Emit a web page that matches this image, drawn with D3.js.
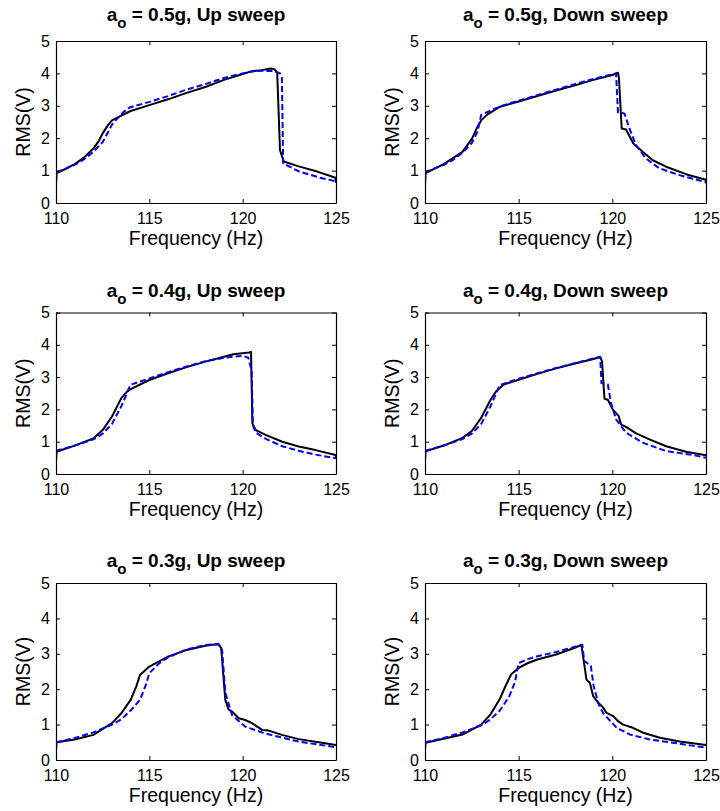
<!DOCTYPE html>
<html>
<head>
<meta charset="utf-8">
<script src="https://cdn.jsdelivr.net/npm/d3@7"></script>
<style>
  body { margin: 0; background: #fff; }
  svg { display: block; }
  text { font-family: "Liberation Sans", Arial, Helvetica, sans-serif; fill: #000; }
</style>
</head>
<body>
<svg id="chart" width="720" height="811"></svg>
<script>
// tick values
const xTicks = [110, 115, 120, 125];
const yTicks = [0, 1, 2, 3, 4, 5];

// panel titles
const accels = ["0.5g", "0.5g", "0.4g", "0.4g", "0.3g", "0.3g"];
const sweeps = ["Up sweep", "Down sweep", "Up sweep", "Down sweep", "Up sweep", "Down sweep"];

// black solid curves (measured), [Hz, RMS V]
const expA = [[110,0.55],[110.03,0.92],[110.5,1.05],[111,1.2],[111.5,1.4],[112,1.68],[112.3,1.92],[112.5,2.15],[112.8,2.42],[113,2.55],[113.5,2.7],[114,2.84],[115,3.02],[116,3.2],[117,3.4],[118,3.58],[119,3.8],[120,3.98],[120.5,4.07],[121,4.1],[121.5,4.15],[121.7,4.13],[121.85,4.02],[122.0,1.63],[122.2,1.28],[123,1.13],[124,0.97],[124.97,0.78],[125,0.62]];
const expB = [[110,0.55],[110.03,0.92],[111,1.2],[112,1.58],[112.5,1.98],[112.8,2.35],[113,2.55],[113.3,2.72],[114,2.97],[115,3.13],[116,3.3],[117,3.47],[118,3.63],[119,3.8],[120,3.95],[120.3,4.02],[120.35,3.88],[120.5,2.3],[120.73,2.27],[121.13,1.83],[121.62,1.58],[122.16,1.32],[122.87,1.12],[123.93,0.89],[124.98,0.72],[125,0.6]];
const expC = [[110,0.4],[110.03,0.69],[111,0.88],[112,1.1],[112.5,1.36],[113,1.78],[113.5,2.35],[113.8,2.55],[114,2.63],[115,2.91],[116,3.12],[117,3.31],[118,3.48],[119,3.63],[119.5,3.71],[120.35,3.76],[120.45,3.78],[120.52,1.57],[120.7,1.36],[121.23,1.21],[122.12,1.0],[123,0.85],[123.9,0.74],[124.98,0.59],[125,0.5]];
const expD = [[110,0.4],[110.03,0.7],[111,0.88],[112,1.12],[112.5,1.33],[113,1.74],[113.5,2.3],[113.8,2.56],[114.2,2.77],[115,2.92],[116,3.1],[117,3.27],[118,3.42],[119,3.56],[119.35,3.62],[119.45,3.49],[119.58,2.33],[119.76,2.3],[120.02,2.0],[120.34,1.79],[120.47,1.53],[120.73,1.46],[121.27,1.26],[121.98,1.07],[122.87,0.86],[123.93,0.69],[125,0.58]];
const expE = [[110,0.3],[110.03,0.5],[111,0.58],[112,0.71],[113,1.04],[113.5,1.32],[114,1.7],[114.3,2.08],[114.5,2.4],[115,2.64],[116,2.92],[117,3.11],[118,3.23],[118.7,3.28],[118.85,3.16],[119.07,1.7],[119.25,1.42],[119.43,1.37],[119.79,1.18],[120.14,1.13],[120.5,1.04],[121.04,0.85],[121.4,0.83],[122.1,0.71],[123,0.59],[124.07,0.5],[125,0.42]];
const expF = [[110,0.3],[110.03,0.49],[111,0.6],[112,0.72],[113,1.0],[113.5,1.29],[114,1.73],[114.3,2.09],[114.6,2.42],[115,2.6],[115.5,2.74],[116,2.84],[117,2.98],[118,3.17],[118.35,3.25],[118.62,2.27],[118.8,2.18],[118.98,1.8],[119.25,1.62],[119.51,1.48],[119.69,1.33],[120.05,1.24],[120.3,1.1],[120.58,1.0],[121.1,0.91],[121.65,0.77],[122.54,0.63],[123.6,0.52],[125,0.42]];

// blue dashed curves (model)
const simA = [[110,0.95],[110.5,1.05],[111,1.18],[111.5,1.35],[112,1.58],[112.5,1.88],[112.8,2.2],[113,2.42],[113.3,2.62],[113.6,2.8],[113.95,2.95],[115,3.12],[116,3.3],[117,3.5],[118,3.67],[119,3.86],[120,4.0],[120.5,4.06],[121,4.08],[121.7,4.07],[122.0,4.0],[122.1,3.9],[122.17,1.22],[123,0.98],[124.14,0.78],[125,0.67]];
const simB = [[110,0.95],[111,1.18],[111.5,1.33],[112,1.55],[112.5,1.85],[112.8,2.2],[113,2.72],[114,2.98],[115,3.16],[116,3.33],[117,3.5],[118,3.67],[119,3.83],[120.2,4.0],[120.3,2.8],[120.65,2.76],[120.91,2.3],[121.27,1.78],[121.8,1.37],[122.51,1.07],[123.58,0.86],[125,0.64]];
const simC = [[110,0.72],[111,0.88],[112,1.07],[112.5,1.25],[113,1.55],[113.5,2.1],[113.8,2.5],[113.98,2.76],[115,2.96],[116,3.15],[117,3.33],[118,3.49],[119,3.6],[120,3.66],[120.3,3.6],[120.48,3.2],[120.55,1.5],[120.7,1.28],[121.27,1.08],[122.12,0.86],[123,0.72],[123.9,0.6],[125,0.49]];
const simD = [[110,0.72],[111,0.88],[112,1.08],[112.5,1.25],[113,1.55],[113.5,2.1],[113.8,2.5],[113.98,2.75],[115,2.95],[116,3.12],[117,3.28],[118,3.43],[119,3.58],[119.35,3.62],[119.42,2.82],[119.76,2.77],[119.93,2.2],[120.2,1.69],[120.73,1.28],[121.62,0.97],[122.87,0.71],[124.29,0.59],[125,0.5]];
const simE = [[110,0.5],[111,0.62],[112,0.78],[113,1.0],[113.5,1.15],[114,1.4],[114.5,1.7],[114.8,2.1],[115,2.45],[115.5,2.72],[116,2.9],[117,3.12],[118,3.25],[118.7,3.27],[118.9,3.1],[119.07,1.9],[119.43,1.27],[120.14,0.94],[121.2,0.75],[123,0.52],[125,0.36]];
const simF = [[110,0.5],[111,0.62],[112,0.78],[113,0.98],[113.5,1.15],[114,1.4],[114.5,1.8],[114.8,2.2],[115,2.74],[115.5,2.85],[116,2.93],[117,3.05],[118,3.2],[118.4,3.25],[118.5,2.8],[118.6,2.76],[118.85,2.66],[119.0,2.1],[119.25,1.6],[119.5,1.33],[119.69,1.22],[120.23,0.91],[120.94,0.72],[122,0.58],[123.43,0.47],[125,0.35]];

const measured = [expA, expB, expC, expD, expE, expF];
const model = [simA, simB, simC, simD, simE, simF];

// layout
const cols = [[56, 336], [425, 706]];
const rows = [[41, 203], [312.5, 474], [583, 760]];
const titleY = [21, 297, 567];

const svg = d3.select("#chart");

measured.forEach(function(black, i) {
  const c = cols[i % 2], r = rows[Math.floor(i / 2)];
  const x = d3.scaleLinear().domain([110, 125]).range(c);
  const y = d3.scaleLinear().domain([0, 5]).range([r[1], r[0]]);
  const g = svg.append("g");

  const clipId = "clip" + i;
  g.append("clipPath").attr("id", clipId)
    .append("rect").attr("x", c[0]).attr("y", r[0])
    .attr("width", c[1] - c[0]).attr("height", r[1] - r[0]);

  const line = d3.line().x(d => x(d[0])).y(d => y(d[1]));

  g.append("path").datum(black)
    .attr("clip-path", "url(#" + clipId + ")")
    .attr("fill", "none").attr("stroke", "#000").attr("stroke-width", 2)
    .attr("stroke-linejoin", "round")
    .attr("d", line);

  g.append("path").datum(model[i])
    .attr("clip-path", "url(#" + clipId + ")")
    .attr("fill", "none").attr("stroke", "#0000ff").attr("stroke-width", 2)
    .attr("stroke-dasharray", "6,3")
    .attr("d", line);

  // axes (ticks inward on all four sides)
  g.append("g").attr("transform", "translate(0," + r[1] + ")")
    .call(d3.axisBottom(x).tickValues(xTicks).tickFormat(d3.format("d"))
      .tickSizeInner(-4).tickSizeOuter(0).tickPadding(10));
  g.append("g").attr("transform", "translate(" + c[0] + ",0)")
    .call(d3.axisLeft(y).tickValues(yTicks).tickFormat(d3.format("d"))
      .tickSizeInner(-4).tickSizeOuter(0).tickPadding(6));
  g.append("g").attr("transform", "translate(0," + r[0] + ")")
    .call(d3.axisTop(x).tickValues(xTicks).tickSizeInner(-4).tickSizeOuter(0).tickFormat(""));
  g.append("g").attr("transform", "translate(" + c[1] + ",0)")
    .call(d3.axisRight(y).tickValues(yTicks).tickSizeInner(-4).tickSizeOuter(0).tickFormat(""));

  g.selectAll(".domain").attr("stroke", "#000").attr("stroke-width", 1.2);
  g.selectAll(".tick line").attr("stroke", "#000");
  g.selectAll(".tick text").attr("font-size", 16).attr("fill", "#000")
    .attr("font-family", "Liberation Sans, Arial, sans-serif");

  // labels
  g.append("text")
    .attr("x", (c[0] + c[1]) / 2).attr("y", r[1] + 42)
    .attr("text-anchor", "middle").attr("font-size", 19.5)
    .text("Frequency (Hz)");

  g.append("text")
    .attr("transform", "translate(" + (c[0] - 26) + "," + ((r[0] + r[1]) / 2) + ") rotate(-90)")
    .attr("text-anchor", "middle").attr("font-size", 19.5)
    .text("RMS(V)");

  const t = g.append("text")
    .attr("x", (c[0] + c[1]) / 2).attr("y", titleY[Math.floor(i / 2)])
    .attr("text-anchor", "middle").attr("font-size", 19).attr("font-weight", "bold");
  t.append("tspan").text("a");
  t.append("tspan").attr("dy", 7).attr("font-size", 15).text("o");
  t.append("tspan").attr("dy", -7).text(" = " + accels[i] + ", " + sweeps[i]);
});
</script>
</body>
</html>
